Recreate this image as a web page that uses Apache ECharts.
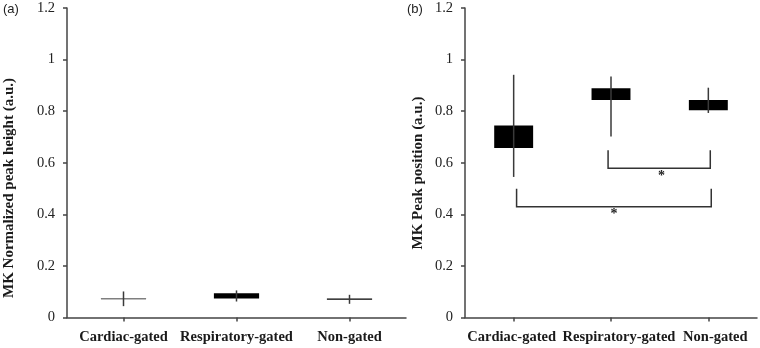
<!DOCTYPE html>
<html>
<head>
<meta charset="utf-8">
<style>
html,body{margin:0;padding:0;background:#fff;}
#chart{width:760px;height:348px;}
</style>
<script src="https://cdn.jsdelivr.net/npm/echarts@6/dist/echarts.min.js"></script>
</head>
<body>
<div id="chart"></div>
<script>
// ---- data ----
var categories = ['Cardiac-gated', 'Respiratory-gated', 'Non-gated'];
var yTicks = [0, 0.2, 0.4, 0.6, 0.8, 1, 1.2];
// panel (a): MK normalized peak height
var heightLow  = [0.044, 0.062, 0.053];
var heightQ1   = [0.071, 0.074, 0.069];
var heightQ3   = [0.074, 0.094, 0.074];
var heightHigh = [0.101, 0.105, 0.088];
// panel (b): MK peak position
var posLow  = [0.545, 0.702, 0.793];
var posQ1   = [0.657, 0.843, 0.804];
var posQ3   = [0.744, 0.889, 0.843];
var posHigh = [0.941, 0.934, 0.891];
// significance brackets on panel (b) (x in category units, 0..3)
var bracketStart = [1.47, 0.53];
var bracketEnd   = [2.52, 2.53];
var bracketTop   = [0.648, 0.499];
var bracketLow   = [0.579, 0.429];
var starX        = [2.02, 1.53];
var starText     = ['*', '*'];
var panelLabels  = ['(a)', '(b)'];
var yTitles = ['MK Normalized peak height (a.u.)', 'MK Peak position (a.u.)'];

function boxData(lo, q1, q3, hi) {
  return categories.map(function (c, i) { return [i, lo[i], q1[i], q3[i], hi[i]]; });
}
function renderBox(params, api) {
  var x = api.value(0);
  var pLow = api.coord([x, api.value(1)]);
  var pQ1 = api.coord([x, api.value(2)]);
  var pQ3 = api.coord([x, api.value(3)]);
  var pHigh = api.coord([x, api.value(4)]);
  var w = api.size([1, 0])[0] * 0.4;
  return {
    type: 'group',
    children: [
      { type: 'rect', shape: { x: pQ1[0] - w / 2, y: pQ3[1], width: w, height: pQ1[1] - pQ3[1] },
        style: { fill: '#000' } },
      { type: 'line', shape: { x1: pLow[0], y1: pLow[1], x2: pHigh[0], y2: pHigh[1] },
        style: { stroke: '#3a3a3a', lineWidth: 1.5 } }
    ]
  };
}
var bracketData = bracketStart.map(function (s, i) {
  return [s, bracketEnd[i], bracketTop[i], bracketLow[i], starX[i]];
});
function renderBracket(params, api) {
  var a = api.coord([api.value(0), api.value(2)]);
  var b = api.coord([api.value(0), api.value(3)]);
  var c = api.coord([api.value(1), api.value(3)]);
  var d = api.coord([api.value(1), api.value(2)]);
  var s = api.coord([api.value(4), api.value(3)]);
  return {
    type: 'group',
    children: [
      { type: 'polyline', shape: { points: [a, b, c, d] },
        style: { stroke: '#333', lineWidth: 1.5, fill: null } },
      { type: 'text', x: s[0], y: s[1] + 1,
        style: { text: starText[params.dataIndex], align: 'center', verticalAlign: 'top',
                 font: 'bold 14px "Liberation Serif"', fill: '#222' } }
    ]
  };
}

var serif = 'Liberation Serif';
function yAxisCfg(gi) {
  return {
    type: 'value', gridIndex: gi, min: yTicks[0], max: yTicks[yTicks.length - 1], interval: 0.2,
    axisLine: { show: true, lineStyle: { color: '#444', width: 1.5 } },
    axisTick: { show: true, length: 4, lineStyle: { color: '#444', width: 1.5 } },
    splitLine: { show: false },
    axisLabel: { fontFamily: serif, fontSize: 14.5, color: '#222', margin: 12 }
  };
}
function xAxisCfg(gi, shifts) {
  return {
    type: 'category', gridIndex: gi,
    data: categories.map(function (c, i) {
      return { value: c, textStyle: { padding: shifts[i] > 0 ? [0, 0, 0, shifts[i] * 2] : [0, -shifts[i] * 2, 0, 0] } };
    }),
    axisLine: { show: true, lineStyle: { color: '#444', width: 1.5 } },
    axisTick: { show: true, alignWithLabel: true, length: 4, lineStyle: { color: '#444', width: 1.5 } },
    axisLabel: { interval: 0, fontFamily: serif, fontWeight: 'bold', fontSize: 14.5, color: '#1a1a1a', margin: 12 },
    splitLine: { show: false }
  };
}

var chart = echarts.init(document.getElementById('chart'), null, { renderer: 'canvas' });
chart.setOption({
  animation: false,
  backgroundColor: '#fff',
  grid: [
    { left: 67, right: 354, top: 8, bottom: 30.5 },
    { left: 465, right: 3, top: 8, bottom: 30.5 }
  ],
  xAxis: [
    xAxisCfg(0, [0, 0, 0]),
    xAxisCfg(1, [-2, 8, 7]),
    { type: 'value', gridIndex: 1, min: 0, max: 3, show: false }
  ],
  yAxis: [yAxisCfg(0), yAxisCfg(1)],
  graphic: [
    { type: 'text', x: 3, y: 3, style: { text: panelLabels[0], font: '13px "Liberation Sans"', fill: '#222' } },
    { type: 'text', x: 407, y: 3, style: { text: panelLabels[1], font: '13px "Liberation Sans"', fill: '#222' } },
    { type: 'text', x: 9, y: 188, rotation: Math.PI / 2,
      style: { text: yTitles[0], align: 'center', verticalAlign: 'middle', font: 'bold 15px "Liberation Serif"', fill: '#1a1a1a' } },
    { type: 'text', x: 418, y: 173, rotation: Math.PI / 2,
      style: { text: yTitles[1], align: 'center', verticalAlign: 'middle', font: 'bold 15px "Liberation Serif"', fill: '#1a1a1a' } }
  ],
  series: [
    { type: 'custom', xAxisIndex: 0, yAxisIndex: 0, renderItem: renderBox,
      data: boxData(heightLow, heightQ1, heightQ3, heightHigh), encode: { x: 0, y: [1, 2, 3, 4] } },
    { type: 'custom', xAxisIndex: 1, yAxisIndex: 1, renderItem: renderBox,
      data: boxData(posLow, posQ1, posQ3, posHigh), encode: { x: 0, y: [1, 2, 3, 4] } },
    { type: 'custom', xAxisIndex: 2, yAxisIndex: 1, renderItem: renderBracket,
      data: bracketData, encode: { x: [0, 1, 4], y: [2, 3] } }
  ]
});
</script>
</body>
</html>
